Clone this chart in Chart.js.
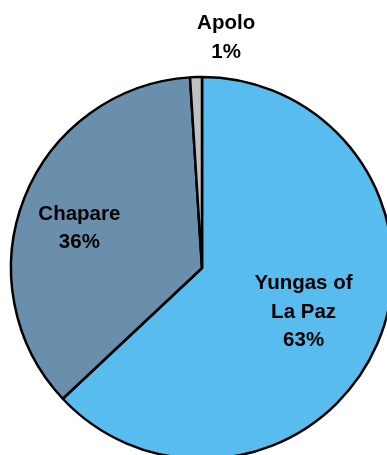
<!DOCTYPE html>
<html>
<head>
<meta charset="utf-8">
<script src="https://cdn.jsdelivr.net/npm/chart.js@4/dist/chart.umd.min.js"></script>
<style>
  html, body { margin: 0; padding: 0; background: #fff; overflow: hidden; }
  #wrap { width: 387px; height: 455px; overflow: hidden; position: relative; }
  #pie { position: absolute; left: 0; top: 0; }
</style>
</head>
<body>
<div id="wrap"><canvas id="pie" width="404" height="536"></canvas></div>
<script>
const regions = ['Yungas of La Paz', 'Chapare', 'Apolo'];
const labelLines = [['Yungas of', 'La Paz'], ['Chapare'], ['Apolo']];
const shares = [63, 36, 1];
const colors = ['#58bcee', '#6a8fad', '#c0c0c0'];

// where each label sits, relative to the slice it belongs to
const labelPlace = [
    { r: 0.58, angle: 23.5, spacing: 28.5 },
    { r: 0.675, angle: 198, spacing: 28 },
    { r: 1.21, angle: 276, spacing: 29 }
];

const sliceLabels = {
    id: 'sliceLabels',
    afterDatasetsDraw(chart) {
        const ctx = chart.ctx;
        const meta = chart.getDatasetMeta(0);
        ctx.save();
        ctx.font = 'bold 20.5px "Liberation Sans", Arial, sans-serif';
        ctx.fillStyle = '#000';
        ctx.textAlign = 'center';
        ctx.textBaseline = 'middle';
        meta.data.forEach(function(arc, i) {
            const p = labelPlace[i];
            const a = p.angle * Math.PI / 180;
            const cx = arc.x + Math.cos(a) * arc.outerRadius * p.r;
            const cy = arc.y + Math.sin(a) * arc.outerRadius * p.r;
            const lines = labelLines[i].concat([shares[i] + '%']);
            const top = cy - (lines.length - 1) * p.spacing / 2;
            lines.forEach(function(t, j) {
                ctx.fillText(t, cx, top + j * p.spacing);
            });
        });
        ctx.restore();
    }
};

new Chart(document.getElementById('pie').getContext('2d'), {
    type: 'pie',
    data: {
        labels: regions,
        datasets: [{
            data: shares,
            backgroundColor: colors,
            borderColor: '#000',
            borderWidth: 2.5
        }]
    },
    options: {
        responsive: false,
        devicePixelRatio: 1,
        animation: false,
        radius: 191,
        layout: { padding: 0 },
        plugins: {
            legend: { display: false },
            tooltip: { enabled: false }
        }
    },
    plugins: [sliceLabels]
});
</script>
</body>
</html>
